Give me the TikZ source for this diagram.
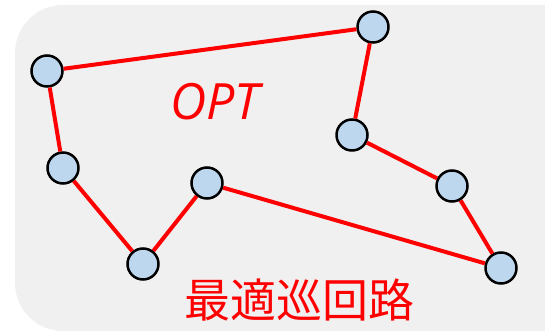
\documentclass[tikz,border=0pt]{standalone}
\usepackage{fontspec}
\setmainfont{Open Sans}
\newfontfamily\jpfont{Noto Sans CJK JP}
\definecolor{bgc}{HTML}{F0F0F0}
\definecolor{nodefill}{HTML}{BDD7EE}
\begin{document}
\begin{tikzpicture}[x=1pt,y=-1pt,
  city/.style={circle,draw=black,line width=2.5pt,fill=nodefill,minimum size=31pt,inner sep=0pt},
  tour/.style={draw=red,line width=4pt}]
\useasboundingbox (0,0) rectangle (545,331);
\fill[bgc,rounded corners=48pt] (15,5) rectangle (600,331);
\node[city] (a) at (47,71) {};
\node[city] (b) at (373,27) {};
\node[city] (c) at (63,168) {};
\node[city] (d) at (352,135) {};
\node[city] (e) at (452,186) {};
\node[city] (f) at (207,183) {};
\node[city] (g) at (143,264) {};
\node[city] (h) at (501,268) {};
\path[tour] (a) -- (b) (b) -- (d) (d) -- (e) (e) -- (h) (h) -- (f) (f) -- (g) (g) -- (c) (c) -- (a);
\node[text=red,font=\fontsize{50}{50}\selectfont\itshape] (opt) at (215,102) {OPT};
\node[text=red,font=\jpfont\fontsize{46}{46}\selectfont] (lbl) at (299,300) {最適巡回路};
\end{tikzpicture}
\end{document}
